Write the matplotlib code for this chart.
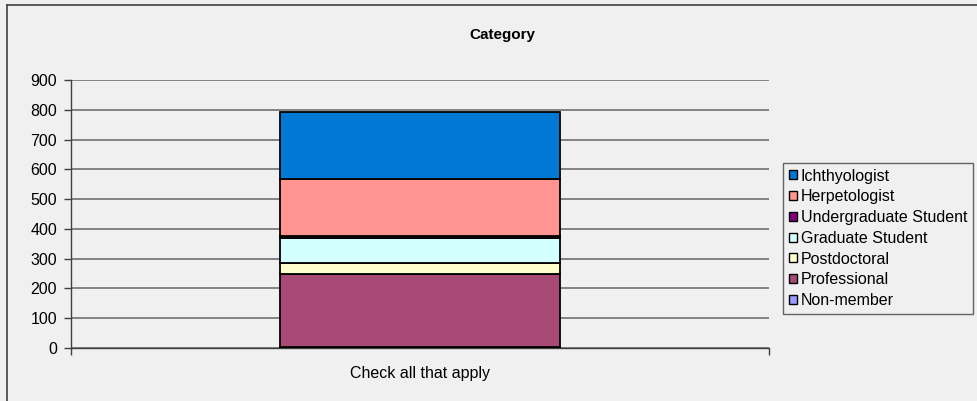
import matplotlib
matplotlib.use("Agg")
import matplotlib.pyplot as plt
from matplotlib.patches import Patch
from matplotlib.lines import Line2D

plt.rcParams['font.family'] = ['Liberation Sans', 'DejaVu Sans']

categories = ["Check all that apply"]
series_names = ["Non-member", "Professional", "Postdoctoral", "Graduate Student",
                "Undergraduate Student", "Herpetologist", "Ichthyologist"]
series_values = [3, 244, 37, 86, 6, 192, 225]
series_colors = ["#9999FF", "#A94A76", "#FFFFCC", "#D4FFFF", "#800080", "#FF9490", "#0078D4"]
yticks = [0, 100, 200, 300, 400, 500, 600, 700, 800, 900]

W, H = 978, 401
bg = "#F0F0F0"
fig = plt.figure(figsize=(W / 100, H / 100), dpi=100, facecolor=bg)

# outer chart border (left and top visible)
fig.add_artist(Line2D([7 / W, 7 / W], [0, 1 - 5 / H], transform=fig.transFigure, color="#404040", lw=1.2))
fig.add_artist(Line2D([7 / W, 1], [1 - 5 / H, 1 - 5 / H], transform=fig.transFigure, color="#404040", lw=1.2))

ax = fig.add_axes([71 / W, 53 / H, (769 - 71) / W, (348 - 80) / H])
ax.set_facecolor(bg)

bottom = 0
for name, val, col in zip(series_names, series_values, series_colors):
    ax.bar(0, val, width=0.4, bottom=bottom, color=col, edgecolor="black", linewidth=1.3, label=name, zorder=3)
    bottom += val

ax.set_xlim(-0.5, 0.5)
ax.set_ylim(0, 900)
ax.set_yticks(yticks)
ax.set_yticklabels([str(t) for t in yticks], fontsize=11.5)
ax.yaxis.grid(True, color="#707070", linewidth=1.2, zorder=0)
ax.set_axisbelow(True)

ax.set_xticks([-0.5, 0.5])
ax.set_xticklabels(["", ""])
ax.tick_params(axis="x", direction="out", length=5, width=1, color="#404040")
ax.tick_params(axis="y", direction="out", length=5, width=1, color="#404040", pad=5)
for s in ["top", "right"]:
    ax.spines[s].set_visible(False)
for s in ["left", "bottom"]:
    ax.spines[s].set_color("#404040")
    ax.spines[s].set_linewidth(1)

ax.text(0, -0.095, categories[0], transform=ax.get_xaxis_transform(), ha="center", va="center", fontsize=11.5)

fig.text(502 / W, 1 - 35 / H, "Category", ha="center", va="center", fontsize=11, fontweight="bold")

handles = [Patch(facecolor=c, edgecolor="black", linewidth=1, label=n)
           for n, c in zip(series_names, series_colors)][::-1]
leg = fig.legend(handles=handles, loc="upper left", bbox_to_anchor=(783 / W, 1 - 163 / H),
                 bbox_transform=fig.transFigure, borderaxespad=0, fancybox=False,
                 frameon=True, fontsize=11.5, handlelength=0.5, handleheight=0.5,
                 handletextpad=0.25, labelspacing=0.36, borderpad=0.35)
leg.get_frame().set_edgecolor("#404040")
leg.get_frame().set_facecolor(bg)
leg.get_frame().set_linewidth(1)

fig.savefig("out.png", dpi=100, facecolor=bg)
